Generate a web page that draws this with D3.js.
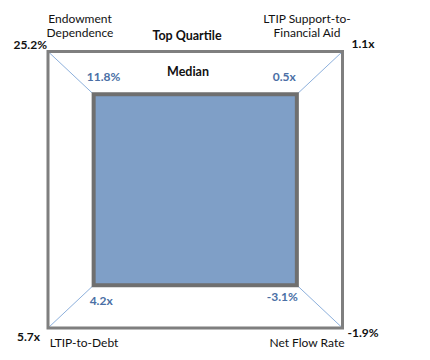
<!DOCTYPE html>
<html>
<head>
<meta charset="utf-8">
<script src="https://cdn.jsdelivr.net/npm/d3@7"></script>
<style>
  html, body { margin: 0; padding: 0; background: #fff; }
  svg text { font-family: Lato, "Open Sans", sans-serif; }
</style>
</head>
<body>
<svg id="chart" width="430" height="360"></svg>
<script>
// ---- data ----
const metrics = ["Endowment\nDependence", "LTIP Support-to-\nFinancial Aid", "Net Flow Rate", "LTIP-to-Debt"];
const topQuartileLabels = ["25.2%", "1.1x", "-1.9%", "5.7x"];
const medianLabels = ["11.8%", "0.5x", "-3.1%", "4.2x"];
const topQuartileScaled = [1, 1, 1, 1];
const medianScaled = [0.69, 0.69, 0.69, 0.69];
const seriesNames = ["Top Quartile", "Median"];
// corner directions for each metric (x sign, y sign)
const dirs = [[-1, 1], [1, 1], [1, -1], [-1, -1]];

const svg = d3.select("#chart");
const x = d3.scaleLinear().domain([-1, 1]).range([48, 342.5]);
const y = d3.scaleLinear().domain([-1, 1]).range([328, 51.5]);

const pts = (vals) => vals.map((v, i) => [x(dirs[i][0] * v), y(dirs[i][1] * v)]);
const outer = pts(topQuartileScaled);
const inner = pts(medianScaled);

// spokes
svg.append("g").selectAll("line").data(d3.range(4)).join("line")
  .attr("x1", i => outer[i][0]).attr("y1", i => outer[i][1])
  .attr("x2", i => inner[i][0]).attr("y2", i => inner[i][1])
  .attr("stroke", "#8db0dc").attr("stroke-width", 1);

const line = d3.line().curve(d3.curveLinearClosed);
svg.append("path").attr("d", line(outer))
  .attr("fill", "none").attr("stroke", "#7f7f7f").attr("stroke-width", 3);
svg.append("path").attr("d", line(inner))
  .attr("fill", "#7f9fc7").attr("stroke", "#6f6f6f").attr("stroke-width", 4);

// series names
svg.append("text").attr("x", 187).attr("y", 40).attr("text-anchor", "middle")
  .attr("font-weight", "bold").attr("font-size", 12.5).attr("fill", "#111").text(seriesNames[0]);
svg.append("text").attr("x", 188).attr("y", 76).attr("text-anchor", "middle")
  .attr("font-weight", "bold").attr("font-size", 12.5).attr("fill", "#111").text(seriesNames[1]);

// metric labels
const metricPos = [
  {x: 80, y: 23, anchor: "middle"},
  {x: 307, y: 23, anchor: "middle"},
  {x: 307, y: 347, anchor: "middle"},
  {x: 84, y: 347, anchor: "middle"}
];
metrics.forEach((m, i) => {
  const t = svg.append("text").attr("text-anchor", metricPos[i].anchor)
    .attr("font-size", 12).attr("fill", "#111");
  m.split("\n").forEach((ln, j) => {
    t.append("tspan").attr("x", metricPos[i].x).attr("y", metricPos[i].y + j * 14).text(ln);
  });
});

// top quartile value labels
const tqPos = [
  {dx: -1, dy: -3, anchor: "end"},
  {dx: 9, dy: -4, anchor: "start"},
  {dx: 5, dy: 9, anchor: "start"},
  {dx: -8, dy: 13, anchor: "end"}
];
topQuartileLabels.forEach((lab, i) => {
  svg.append("text").attr("x", outer[i][0] + tqPos[i].dx).attr("y", outer[i][1] + tqPos[i].dy)
    .attr("text-anchor", tqPos[i].anchor).attr("font-weight", "bold").attr("font-size", 12)
    .attr("fill", "#111").text(lab);
});

// median value labels
const mdPos = [
  {dx: 10, dy: -13, anchor: "middle"},
  {dx: -1, dy: -13, anchor: "end"},
  {dx: 1, dy: 16, anchor: "end"},
  {dx: -4, dy: 20, anchor: "start"}
];
medianLabels.forEach((lab, i) => {
  svg.append("text").attr("x", inner[i][0] + mdPos[i].dx).attr("y", inner[i][1] + mdPos[i].dy)
    .attr("text-anchor", mdPos[i].anchor).attr("font-weight", "bold").attr("font-size", 12)
    .attr("fill", "#4a6fa5").text(lab);
});
</script>
</body>
</html>
